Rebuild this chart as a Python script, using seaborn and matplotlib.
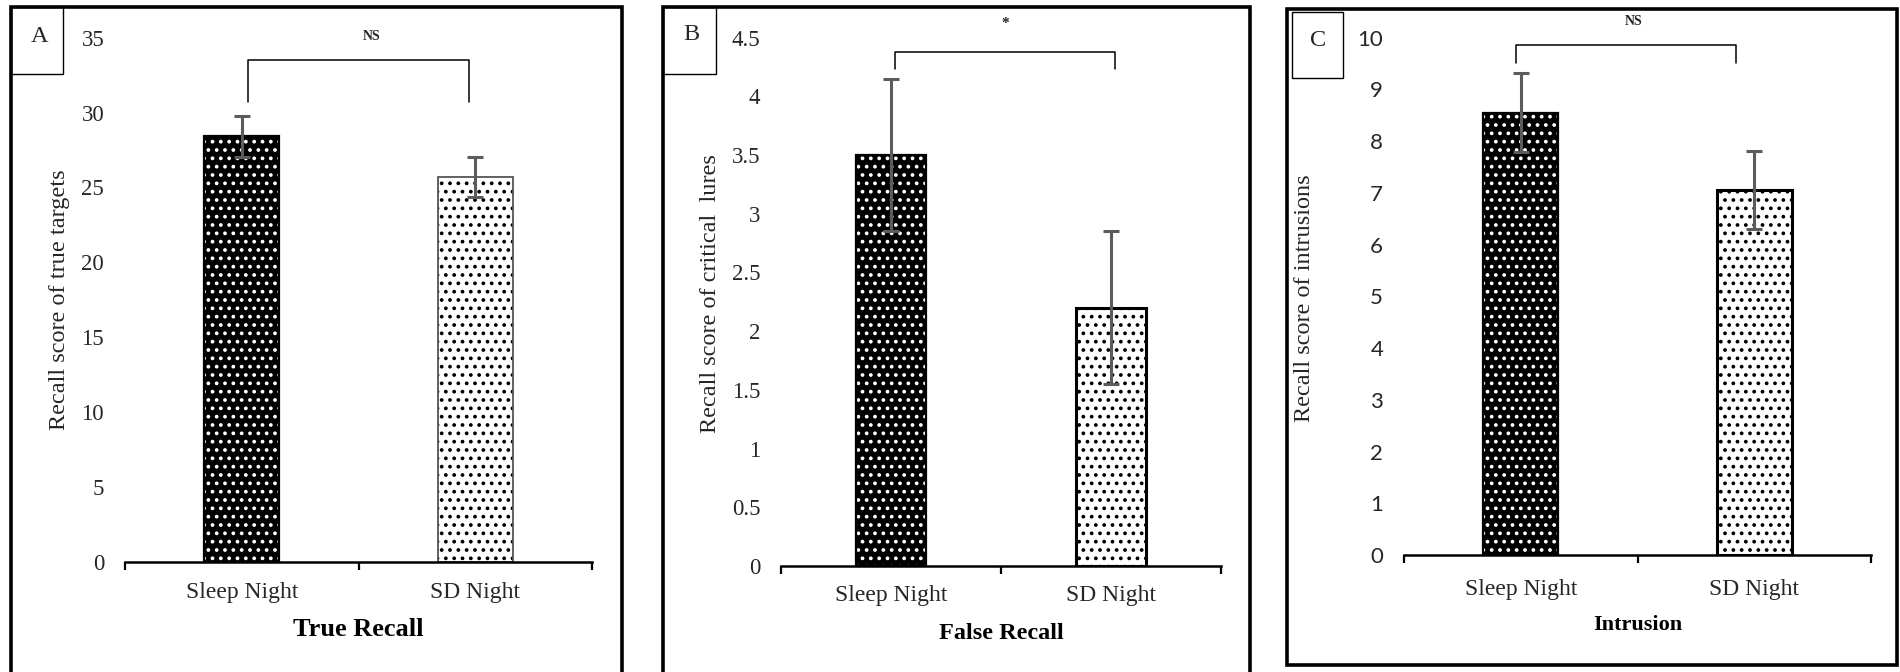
import matplotlib
matplotlib.use("Agg")
import matplotlib.pyplot as plt
import seaborn as sns
from matplotlib.patches import Rectangle

# ---- data -------------------------------------------------------------
categories = ["Sleep Night", "SD Night"]

true_recall_mean = [28.4, 25.7]
true_recall_se = [1.4, 1.35]

false_recall_mean = [3.5, 2.2]
false_recall_se = [0.65, 0.65]

intrusion_mean = [8.55, 7.05]
intrusion_se = [0.76, 0.75]

panel_letters = ["A", "B", "C"]
panel_titles = ["True Recall", "False Recall", "Intrusion"]
y_labels = ["Recall score of true targets",
            "Recall score of critical  lures",
            "Recall score of intrusions"]
significance = ["NS", "*", "NS"]

# ---- style ------------------------------------------------------------
sns.set_theme(style="white")
plt.rcParams["font.family"] = ["Liberation Serif", "DejaVu Serif"]
plt.rcParams["hatch.linewidth"] = 1.5

W, H = 1900, 672
fig = plt.figure(figsize=(W / 100, H / 100), dpi=100)
fig.patch.set_facecolor("white")


def fx(px):
    return px / W


def fy(py):
    return 1 - py / H


def add_axes_px(x0, x1, y_top, y_bottom):
    return fig.add_axes([fx(x0), fy(y_bottom), fx(x1) - fx(x0),
                         (y_bottom - y_top) / H])


def draw_panel(ax, means, errs, ymax, ystep, tick_family, tick_size,
               xtick_size, xtick_pad, xlabel, xlabel_size, xlabel_pad,
               sig, sig_size, bracket, light_edge):
    sns.barplot(x=categories, y=means, ax=ax, width=0.32, color="white",
                edgecolor="black", linewidth=1.6, errorbar=None, zorder=2)
    dark, light = ax.patches[0], ax.patches[1]
    dark.set_facecolor("black")
    dark.set_hatch("..")
    dark._hatch_color = (1, 1, 1, 1)
    light.set_facecolor("white")
    light.set_edgecolor(light_edge[0])
    light.set_linewidth(light_edge[1])
    light.set_hatch("..")
    light._hatch_color = (0, 0, 0, 1)

    ax.errorbar(x=[0, 1], y=means, yerr=errs, fmt="none", ecolor="#5c5c5c",
                elinewidth=2.2, capsize=6, capthick=2.2, zorder=5)

    ax.set_xlim(-0.5, 1.5)
    ax.set_ylim(0, ymax)
    ticks = [i * ystep for i in range(int(round(ymax / ystep)) + 1)]
    ax.set_yticks(ticks)
    ax.set_yticklabels([f"{t:g}" for t in ticks], family=tick_family,
                       fontsize=tick_size)
    ax.tick_params(axis="y", length=0, pad=15)

    ax.set_xticks([0, 1])
    ax.set_xticklabels(categories, fontsize=xtick_size)
    ax.set_xticks([-0.5, 0.5, 1.5], minor=True)
    ax.tick_params(axis="x", which="major", length=0, pad=xtick_pad)
    ax.tick_params(axis="x", which="minor", length=6, width=1.6,
                   direction="out", color="black", bottom=True)
    ax.set_xlabel(xlabel, fontsize=xlabel_size, fontweight="bold",
                  labelpad=xlabel_pad, color="black")
    ax.set_ylabel("")

    for side in ("left", "top", "right"):
        ax.spines[side].set_visible(False)
    ax.spines["bottom"].set_color("black")
    ax.spines["bottom"].set_linewidth(1.8)
    ax.set_facecolor("none")

    x0, x1, y_low, y_high, tx, ty = bracket
    ax.plot([x0, x0, x1, x1], [y_low, y_high, y_high, y_low],
            color="black", lw=1.1, clip_on=False, zorder=3)
    ax.text(tx, ty, sig, ha="center", va="center", fontsize=sig_size,
            fontweight="bold", clip_on=False)


# panel frames and letter boxes (pixel rectangles of the page layout)
frames = [(11, 7, 622, 690), (663, 7, 1250, 690), (1287, 9, 1897, 665)]
letter_boxes = [(11, 7, 63, 74), (663, 7, 716, 74), (1292, 12, 1343, 78)]
letter_pos = [(40, 36), (691, 34), (1318, 41)]
for (l, t, r, b) in frames:
    fig.add_artist(Rectangle((fx(l), fy(b)), fx(r) - fx(l), fy(t) - fy(b),
                             transform=fig.transFigure, fill=False,
                             edgecolor="black", linewidth=2.6, zorder=10))
for (l, t, r, b), (lx, ly), letter in zip(letter_boxes, letter_pos,
                                          panel_letters):
    fig.add_artist(Rectangle((fx(l), fy(b)), fx(r) - fx(l), fy(t) - fy(b),
                             transform=fig.transFigure, fill=False,
                             edgecolor="black", linewidth=1.0, zorder=10))
    fig.text(fx(lx), fy(ly), letter, ha="center", va="center",
             fontsize=17.5)

axA = add_axes_px(125, 592, 37.6, 562)
draw_panel(axA, true_recall_mean, true_recall_se, 35, 5,
           ["Liberation Serif"], 16.5, 17, 14.5, panel_titles[0], 19, 10.5,
           significance[0], 10,
           (0.026, 0.975, 30.7, 33.5, 0.557, 35.1), ("#555555", 1.3))

axB = add_axes_px(781, 1221, 37.6, 566)
draw_panel(axB, false_recall_mean, false_recall_se, 4.5, 0.5,
           ["Liberation Serif"], 16.5, 17, 13.6, panel_titles[1], 17.5, 12,
           significance[1], 11,
           (0.018, 1.02, 4.23, 4.38, 0.52, 4.62), ("black", 2.2))

axC = add_axes_px(1404, 1871, 37.6, 555)
draw_panel(axC, intrusion_mean, intrusion_se, 10, 1,
           ["Lato", "DejaVu Sans"], 16, 17, 17, panel_titles[2], 16, 11,
           significance[2], 10,
           (-0.02, 0.923, 9.5, 9.85, 0.485, 10.32), ("black", 2.2))

# rotated y-axis titles
for (cx, cy), text in zip([(60, 300), (711, 294), (1305, 298)], y_labels):
    fig.text(fx(cx), fy(cy), text, rotation=90, ha="center", va="center",
             fontsize=17.5)

fig.savefig("out.png", dpi=100, facecolor="white")
